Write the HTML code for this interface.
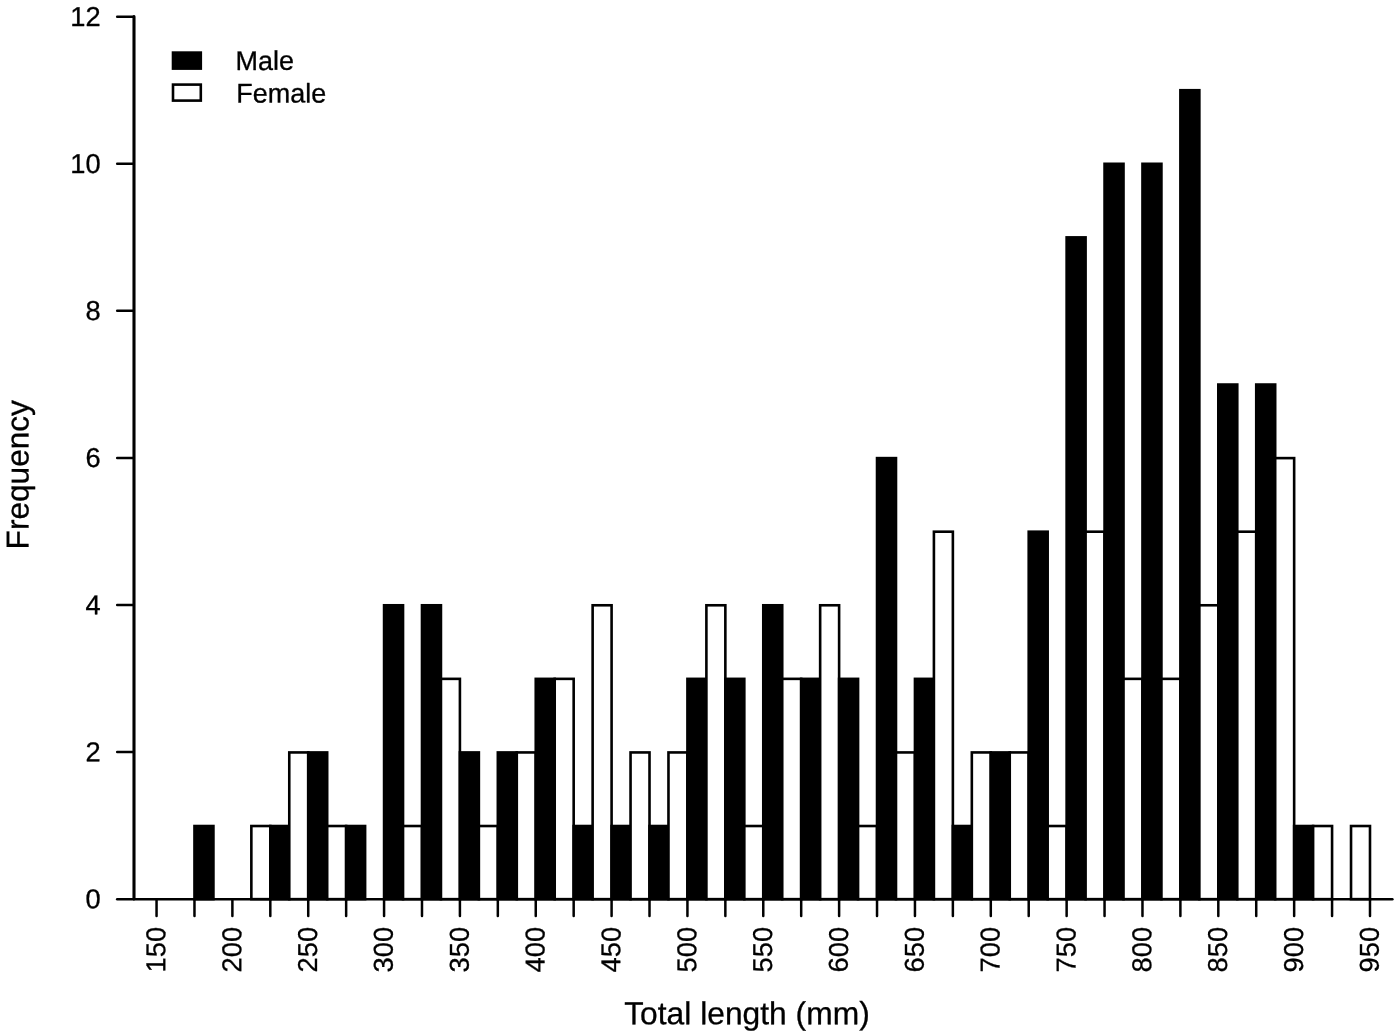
<!DOCTYPE html>
<html lang="en"><head><meta charset="utf-8"><title>Length frequency</title>
<style>html,body{margin:0;padding:0;background:#fff;}svg{display:block;}text{font-family:"Liberation Sans",sans-serif;fill:#000;stroke:#000;stroke-width:0.3px;stroke-linejoin:round;text-rendering:geometricPrecision;}</style></head><body>
<svg width="1400" height="1036" viewBox="0 0 1400 1036">
<rect width="1400" height="1036" fill="#fff"/>
<g stroke="#000" stroke-width="2.6" stroke-linejoin="miter">
<rect x="194.47" y="826.02" width="18.96" height="73.13" fill="#000"/>
<rect x="251.35" y="826.02" width="18.96" height="73.13" fill="#fff"/>
<rect x="270.31" y="826.02" width="18.96" height="73.13" fill="#000"/>
<rect x="289.27" y="752.44" width="18.96" height="146.71" fill="#fff"/>
<rect x="308.23" y="752.44" width="18.96" height="146.71" fill="#000"/>
<rect x="327.19" y="826.02" width="18.96" height="73.13" fill="#fff"/>
<rect x="346.15" y="826.02" width="18.96" height="73.13" fill="#000"/>
<rect x="384.07" y="605.28" width="18.96" height="293.87" fill="#000"/>
<rect x="403.03" y="826.02" width="18.96" height="73.13" fill="#fff"/>
<rect x="421.99" y="605.28" width="18.96" height="293.87" fill="#000"/>
<rect x="440.95" y="678.86" width="18.96" height="220.29" fill="#fff"/>
<rect x="459.91" y="752.44" width="18.96" height="146.71" fill="#000"/>
<rect x="478.87" y="826.02" width="18.96" height="73.13" fill="#fff"/>
<rect x="497.83" y="752.44" width="18.96" height="146.71" fill="#000"/>
<rect x="516.79" y="752.44" width="18.96" height="146.71" fill="#fff"/>
<rect x="535.75" y="678.86" width="18.96" height="220.29" fill="#000"/>
<rect x="554.71" y="678.86" width="18.96" height="220.29" fill="#fff"/>
<rect x="573.67" y="826.02" width="18.96" height="73.13" fill="#000"/>
<rect x="592.63" y="605.28" width="18.96" height="293.87" fill="#fff"/>
<rect x="611.59" y="826.02" width="18.96" height="73.13" fill="#000"/>
<rect x="630.55" y="752.44" width="18.96" height="146.71" fill="#fff"/>
<rect x="649.51" y="826.02" width="18.96" height="73.13" fill="#000"/>
<rect x="668.47" y="752.44" width="18.96" height="146.71" fill="#fff"/>
<rect x="687.43" y="678.86" width="18.96" height="220.29" fill="#000"/>
<rect x="706.39" y="605.28" width="18.96" height="293.87" fill="#fff"/>
<rect x="725.35" y="678.86" width="18.96" height="220.29" fill="#000"/>
<rect x="744.31" y="826.02" width="18.96" height="73.13" fill="#fff"/>
<rect x="763.27" y="605.28" width="18.96" height="293.87" fill="#000"/>
<rect x="782.23" y="678.86" width="18.96" height="220.29" fill="#fff"/>
<rect x="801.19" y="678.86" width="18.96" height="220.29" fill="#000"/>
<rect x="820.15" y="605.28" width="18.96" height="293.87" fill="#fff"/>
<rect x="839.11" y="678.86" width="18.96" height="220.29" fill="#000"/>
<rect x="858.07" y="826.02" width="18.96" height="73.13" fill="#fff"/>
<rect x="877.03" y="458.12" width="18.96" height="441.03" fill="#000"/>
<rect x="895.99" y="752.44" width="18.96" height="146.71" fill="#fff"/>
<rect x="914.95" y="678.86" width="18.96" height="220.29" fill="#000"/>
<rect x="933.91" y="531.70" width="18.96" height="367.45" fill="#fff"/>
<rect x="952.87" y="826.02" width="18.96" height="73.13" fill="#000"/>
<rect x="971.83" y="752.44" width="18.96" height="146.71" fill="#fff"/>
<rect x="990.79" y="752.44" width="18.96" height="146.71" fill="#000"/>
<rect x="1009.75" y="752.44" width="18.96" height="146.71" fill="#fff"/>
<rect x="1028.71" y="531.70" width="18.96" height="367.45" fill="#000"/>
<rect x="1047.67" y="826.02" width="18.96" height="73.13" fill="#fff"/>
<rect x="1066.63" y="237.38" width="18.96" height="661.77" fill="#000"/>
<rect x="1085.59" y="531.70" width="18.96" height="367.45" fill="#fff"/>
<rect x="1104.55" y="163.80" width="18.96" height="735.35" fill="#000"/>
<rect x="1123.51" y="678.86" width="18.96" height="220.29" fill="#fff"/>
<rect x="1142.47" y="163.80" width="18.96" height="735.35" fill="#000"/>
<rect x="1161.43" y="678.86" width="18.96" height="220.29" fill="#fff"/>
<rect x="1180.39" y="90.22" width="18.96" height="808.93" fill="#000"/>
<rect x="1199.35" y="605.28" width="18.96" height="293.87" fill="#fff"/>
<rect x="1218.31" y="384.54" width="18.96" height="514.61" fill="#000"/>
<rect x="1237.27" y="531.70" width="18.96" height="367.45" fill="#fff"/>
<rect x="1256.23" y="384.54" width="18.96" height="514.61" fill="#000"/>
<rect x="1275.19" y="458.12" width="18.96" height="441.03" fill="#fff"/>
<rect x="1294.15" y="826.02" width="18.96" height="73.13" fill="#000"/>
<rect x="1313.11" y="826.02" width="18.96" height="73.13" fill="#fff"/>
<rect x="1351.03" y="826.02" width="18.96" height="73.13" fill="#fff"/>
</g>
<g stroke="#000" stroke-width="2.8" stroke-linecap="round" fill="none">
<line x1="134.0" y1="899.15" x2="1392.4" y2="899.15" stroke-width="2.5"/>
<line x1="134.0" y1="898.80" x2="134.0" y2="16.67" stroke-width="3.1"/>
<line x1="133.60" y1="899.15" x2="117.20" y2="899.15" stroke-width="2.5"/>
<line x1="133.60" y1="752.07" x2="117.20" y2="752.07" stroke-width="2.5"/>
<line x1="133.60" y1="604.99" x2="117.20" y2="604.99" stroke-width="2.5"/>
<line x1="133.60" y1="457.91" x2="117.20" y2="457.91" stroke-width="2.5"/>
<line x1="133.60" y1="310.83" x2="117.20" y2="310.83" stroke-width="2.5"/>
<line x1="133.60" y1="163.75" x2="117.20" y2="163.75" stroke-width="2.5"/>
<line x1="133.60" y1="16.67" x2="117.20" y2="16.67" stroke-width="2.5"/>
<line x1="156.55" y1="899.55" x2="156.55" y2="915.95" stroke-width="2.5"/>
<line x1="194.47" y1="899.55" x2="194.47" y2="915.95" stroke-width="2.5"/>
<line x1="232.39" y1="899.55" x2="232.39" y2="915.95" stroke-width="2.5"/>
<line x1="270.31" y1="899.55" x2="270.31" y2="915.95" stroke-width="2.5"/>
<line x1="308.23" y1="899.55" x2="308.23" y2="915.95" stroke-width="2.5"/>
<line x1="346.15" y1="899.55" x2="346.15" y2="915.95" stroke-width="2.5"/>
<line x1="384.07" y1="899.55" x2="384.07" y2="915.95" stroke-width="2.5"/>
<line x1="421.99" y1="899.55" x2="421.99" y2="915.95" stroke-width="2.5"/>
<line x1="459.91" y1="899.55" x2="459.91" y2="915.95" stroke-width="2.5"/>
<line x1="497.83" y1="899.55" x2="497.83" y2="915.95" stroke-width="2.5"/>
<line x1="535.75" y1="899.55" x2="535.75" y2="915.95" stroke-width="2.5"/>
<line x1="573.67" y1="899.55" x2="573.67" y2="915.95" stroke-width="2.5"/>
<line x1="611.59" y1="899.55" x2="611.59" y2="915.95" stroke-width="2.5"/>
<line x1="649.51" y1="899.55" x2="649.51" y2="915.95" stroke-width="2.5"/>
<line x1="687.43" y1="899.55" x2="687.43" y2="915.95" stroke-width="2.5"/>
<line x1="725.35" y1="899.55" x2="725.35" y2="915.95" stroke-width="2.5"/>
<line x1="763.27" y1="899.55" x2="763.27" y2="915.95" stroke-width="2.5"/>
<line x1="801.19" y1="899.55" x2="801.19" y2="915.95" stroke-width="2.5"/>
<line x1="839.11" y1="899.55" x2="839.11" y2="915.95" stroke-width="2.5"/>
<line x1="877.03" y1="899.55" x2="877.03" y2="915.95" stroke-width="2.5"/>
<line x1="914.95" y1="899.55" x2="914.95" y2="915.95" stroke-width="2.5"/>
<line x1="952.87" y1="899.55" x2="952.87" y2="915.95" stroke-width="2.5"/>
<line x1="990.79" y1="899.55" x2="990.79" y2="915.95" stroke-width="2.5"/>
<line x1="1028.71" y1="899.55" x2="1028.71" y2="915.95" stroke-width="2.5"/>
<line x1="1066.63" y1="899.55" x2="1066.63" y2="915.95" stroke-width="2.5"/>
<line x1="1104.55" y1="899.55" x2="1104.55" y2="915.95" stroke-width="2.5"/>
<line x1="1142.47" y1="899.55" x2="1142.47" y2="915.95" stroke-width="2.5"/>
<line x1="1180.39" y1="899.55" x2="1180.39" y2="915.95" stroke-width="2.5"/>
<line x1="1218.31" y1="899.55" x2="1218.31" y2="915.95" stroke-width="2.5"/>
<line x1="1256.23" y1="899.55" x2="1256.23" y2="915.95" stroke-width="2.5"/>
<line x1="1294.15" y1="899.55" x2="1294.15" y2="915.95" stroke-width="2.5"/>
<line x1="1332.07" y1="899.55" x2="1332.07" y2="915.95" stroke-width="2.5"/>
<line x1="1369.99" y1="899.55" x2="1369.99" y2="915.95" stroke-width="2.5"/>
</g>
<g font-size="27.3" text-anchor="end">
<text transform="translate(100.6,908.35) rotate(-0.05) scale(1,1.0)">0</text>
<text transform="translate(100.6,761.27) rotate(-0.05) scale(1,1.0)">2</text>
<text transform="translate(100.6,614.19) rotate(-0.05) scale(1,1.0)">4</text>
<text transform="translate(100.6,467.11) rotate(-0.05) scale(1,1.0)">6</text>
<text transform="translate(100.6,320.03) rotate(-0.05) scale(1,1.0)">8</text>
<text transform="translate(100.6,172.95) rotate(-0.05) scale(1,1.0)">10</text>
<text transform="translate(100.6,25.87) rotate(-0.05) scale(1,1.0)">12</text>
</g>
<g font-size="27.3" text-anchor="end">
<text transform="translate(165.35,926.9) rotate(-89.95) scale(1,1.0)">150</text>
<text transform="translate(241.19,926.9) rotate(-89.95) scale(1,1.0)">200</text>
<text transform="translate(317.03,926.9) rotate(-89.95) scale(1,1.0)">250</text>
<text transform="translate(392.87,926.9) rotate(-89.95) scale(1,1.0)">300</text>
<text transform="translate(468.71,926.9) rotate(-89.95) scale(1,1.0)">350</text>
<text transform="translate(544.55,926.9) rotate(-89.95) scale(1,1.0)">400</text>
<text transform="translate(620.39,926.9) rotate(-89.95) scale(1,1.0)">450</text>
<text transform="translate(696.23,926.9) rotate(-89.95) scale(1,1.0)">500</text>
<text transform="translate(772.07,926.9) rotate(-89.95) scale(1,1.0)">550</text>
<text transform="translate(847.91,926.9) rotate(-89.95) scale(1,1.0)">600</text>
<text transform="translate(923.75,926.9) rotate(-89.95) scale(1,1.0)">650</text>
<text transform="translate(999.59,926.9) rotate(-89.95) scale(1,1.0)">700</text>
<text transform="translate(1075.43,926.9) rotate(-89.95) scale(1,1.0)">750</text>
<text transform="translate(1151.27,926.9) rotate(-89.95) scale(1,1.0)">800</text>
<text transform="translate(1227.11,926.9) rotate(-89.95) scale(1,1.0)">850</text>
<text transform="translate(1302.95,926.9) rotate(-89.95) scale(1,1.0)">900</text>
<text transform="translate(1378.79,926.9) rotate(-89.95) scale(1,1.0)">950</text>
</g>
<text transform="translate(746.95,1024.2) rotate(-0.05)" font-size="31.8" text-anchor="middle">Total length (mm)</text>
<text transform="translate(28.5,474.75) rotate(-89.95)" font-size="31.6" text-anchor="middle">Frequency</text>
<g stroke="#000" stroke-width="2.6" stroke-linejoin="miter">
<rect x="173.0" y="52.6" width="27.8" height="16.0" fill="#000"/>
<rect x="173.0" y="84.6" width="27.8" height="16.0" fill="#fff"/>
</g>
<g font-size="27.0">
<text transform="translate(235.60,69.9) rotate(-0.05)">Male</text>
<text transform="translate(236.2,102.45) rotate(-0.05)">Female</text>
</g>
</svg></body></html>
